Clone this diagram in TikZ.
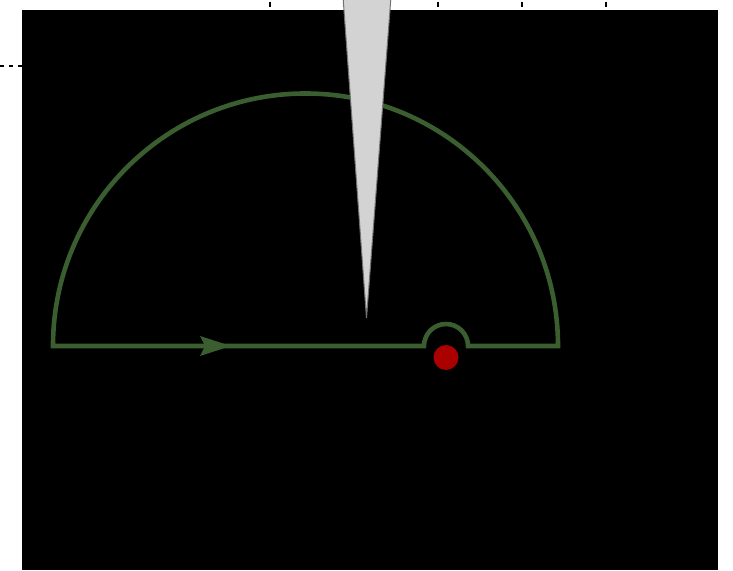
\documentclass[tikz,border=0pt]{standalone}
\definecolor{contourgreen}{RGB}{58,94,47}
\definecolor{poleRed}{RGB}{170,0,0}
\definecolor{spikegrey}{RGB}{211,211,211}
\tikzset{
  contour/.style={draw=contourgreen, line width=4.6pt, line join=miter},
  tick/.style={line width=2pt, black},
}
\begin{document}
\begin{tikzpicture}[x=1pt,y=1pt]
\useasboundingbox (0,0) rectangle (733,570);
\clip (0,0) rectangle (733,570);
% black background panel
\fill[black] (22,0) rectangle (718,560);
% ticks above
\foreach \t in {270,438,522,606} \draw[tick] (\t,567.5) -- (\t,562.5);
% dotted line at left
\coordinate (dl) at (0,504);
\coordinate (dr) at (22,504);
\draw[black, line width=2.2pt, dash pattern=on 4pt off 5pt] (dl) -- (dr);
% contour
\coordinate (A) at (53,224);
\coordinate (B) at (424,224);
\coordinate (C) at (558,224);
\draw[contour] (A) -- (B) arc[start angle=180, end angle=0, radius=22] -- (C)
  arc[start angle=0, end angle=180, radius=252.5] -- cycle;
% direction arrow
\fill[contourgreen] (200,234) -- (231,224) -- (200,214) -- (205,224) -- cycle;
% pole
\coordinate (P) at (446,212.5);
\fill[poleRed] (P) circle[radius=12.5];
% spike
\coordinate (s1) at (342.5,580);
\coordinate (s2) at (391.5,580);
\coordinate (tip) at (366.5,252);
\filldraw[fill=spikegrey, draw=black!55, line width=1pt, line join=miter] (s1) -- (tip) -- (s2) -- cycle;
\end{tikzpicture}
\end{document}
